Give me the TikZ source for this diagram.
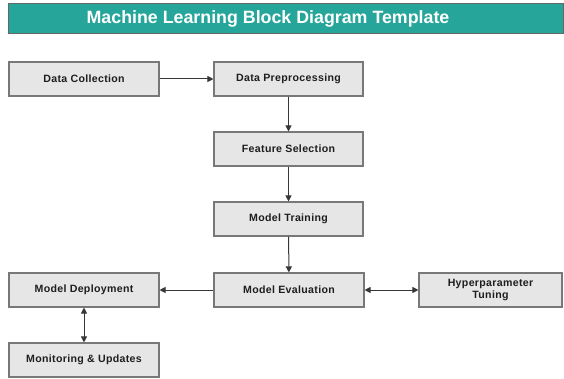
\documentclass[tikz,border=0pt]{standalone}
\usepackage{fontspec}
\setmainfont{Liberation Sans}
\newfontfamily\boxfont[LetterSpace=3]{Liberation Sans}
\usetikzlibrary{arrows.meta}
\definecolor{teal1}{RGB}{38,166,154}
\definecolor{boxfill}{RGB}{230,230,230}
\definecolor{boxline}{RGB}{120,120,120}
\definecolor{txt}{RGB}{30,30,30}
\definecolor{arr}{RGB}{55,55,55}
\tikzset{
  blk/.style={draw=boxline, line width=1.1pt, fill=boxfill, minimum height=34pt, inner sep=1pt,
    font=\boxfont\bfseries\fontsize{10.6}{11.5}\selectfont, text=txt, align=center},
  conn/.style={draw=arr, line width=1pt, -{Triangle[length=6pt,width=6pt]}},
  bconn/.style={draw=arr, line width=1pt, {Triangle[length=6pt,width=6pt]}-{Triangle[length=6pt,width=6pt]}}
}
\begin{document}
\begin{tikzpicture}[x=1pt,y=-1pt]
\useasboundingbox (0,0) rectangle (564,379);
\node[draw=black!60, line width=1pt, fill=teal1, minimum width=555pt, minimum height=30pt] (bar) at (285.5,19) {};
\node[text=white, font=\bfseries\fontsize{17.8}{20}\selectfont] (title) at (268,19) {Machine Learning Block Diagram Template};
\node[blk, minimum width=150pt] (dc) at (84,79) {Data Collection};
\node[blk, minimum width=149pt] (dp) at (288.5,79) {Data Preprocessing};
\node[blk, minimum width=149pt] (fs) at (288.5,149) {Feature Selection};
\node[blk, minimum width=149pt] (mt) at (288.5,219) {Model Training};
\node[blk, minimum width=150pt] (me) at (289,290) {Model Evaluation};
\node[blk, minimum width=143pt] (ht) at (490.5,290) {Hyperparameter\\Tuning};
\node[blk, minimum width=150pt] (md) at (84,290) {Model Deployment};
\node[blk, minimum width=150pt] (mu) at (84,360) {Monitoring \& Updates};
\draw[conn] (dc) -- (dp);
\draw[conn] (dp) -- (fs);
\draw[conn] (fs) -- (mt);
\draw[conn] (mt) -- (me);
\draw[conn] (me) -- (md);
\draw[bconn] (me) -- (ht);
\draw[bconn] (md) -- (mu);
\end{tikzpicture}
\end{document}
